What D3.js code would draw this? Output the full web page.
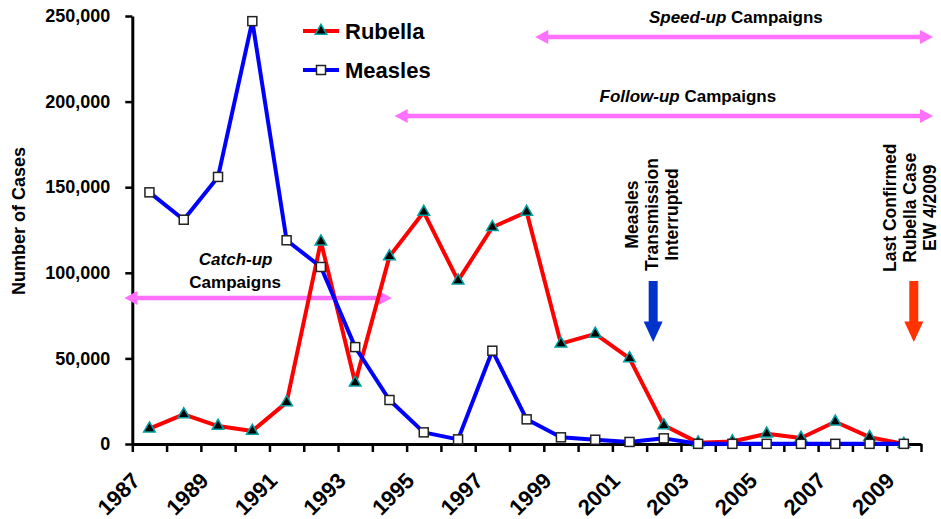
<!DOCTYPE html>
<html>
<head>
<meta charset="utf-8">
<script src="https://cdn.jsdelivr.net/npm/d3@7"></script>
<style>
  html, body { margin: 0; padding: 0; background: #fff; }
  svg { display: block; font-family: "Liberation Sans", Arial, sans-serif; }
  .yearlab { font-size: 22px; font-weight: bold; }
</style>
</head>
<body>
<svg id="chart" width="941" height="519"></svg>
<script>
// ---- data ----
const years = [1987,1988,1989,1990,1991,1992,1993,1994,1995,1996,1997,1998,1999,2000,2001,2002,2003,2004,2005,2006,2007,2008,2009];
const rubella = [9000,17300,10500,7600,24300,118200,35800,109600,135500,95400,126600,135500,58600,64300,50000,10900,800,1500,6000,3500,13000,4000,0];
const measles = [147000,131000,156000,247000,119000,103400,56600,25700,6800,2700,54500,14400,3900,2500,1200,3300,100,100,100,100,100,100,100];
const yTicks = [0,50000,100000,150000,200000,250000];
const yearLabels = [1987,1989,1991,1993,1995,1997,1999,2001,2003,2005,2007,2009];
const seriesNames = ["Rubella","Measles"];
// campaign spans (year positions, case-level of arrow)
const campaigns = [
  {italic:"Speed-up", rest:" Campaigns", from:1998.75, to:2010.35, level:237700, textAt:2004.6, textLevel:"above"},
  {italic:"Follow-up", rest:" Campaigns", from:1994.65, to:2010.35, level:191600, textAt:2003.2, textLevel:"above"},
  {italic:"Catch-up", rest:"Campaigns", from:1986.77, to:1994.57, level:85300, textAt:1990.0, textLevel:"twoLines"}
];
const markers = [
  {lines:["Measles","Transmission","Interrupted"], at:2002.19, color:"#0033CC", textMid:134000, shift:5},
  {lines:["Last Confirmed","Rubella Case","EW 4/2009"], at:2009.79, color:"#FF3300", textMid:138000, shift:2}
];
const arrowTop = 95200, arrowHeadStart = 71600, arrowTip = 59600;

// ---- scales ----
const svg = d3.select("#chart");
const x = d3.scaleBand().domain(years).range([132.3, 921]).padding(0);
const xl = d3.scaleLinear().domain([1987, 2010]).range([132.3, 921]);
const y = d3.scaleLinear().domain([0, 250000]).range([444, 16]);
const bw = x.bandwidth();
const cx = yr => x(yr) + bw / 2;

// ---- axes ----
const yAxis = svg.append("g").attr("transform", "translate(132.3,0)")
  .call(d3.axisLeft(y).tickValues(yTicks).tickSize(7).tickSizeOuter(0).tickPadding(15).tickFormat(d3.format(",")));
yAxis.select(".domain").attr("stroke", "#000").attr("stroke-width", 3);
yAxis.selectAll(".tick line").attr("stroke", "#000").attr("stroke-width", 2.5);
yAxis.selectAll(".tick text").attr("font-size", 18).attr("font-weight", "bold").attr("fill", "#000")
  .attr("font-family", "Liberation Sans, Arial, sans-serif");

const xAxis = svg.append("g").attr("transform", "translate(0,444)")
  .call(d3.axisBottom(xl).tickValues(d3.range(1987, 2011)).tickSize(8).tickSizeOuter(0).tickFormat(""));
xAxis.select(".domain").attr("stroke", "#000").attr("stroke-width", 3);
xAxis.selectAll(".tick line").attr("stroke", "#000").attr("stroke-width", 2.5);

svg.append("g").selectAll("text").data(yearLabels).join("text")
  .attr("class", "yearlab")
  .attr("transform", d => `translate(${cx(d) - 8},482) rotate(-45)`)
  .attr("text-anchor", "end")
  .attr("fill", "#000")
  .text(d => d);

svg.append("text")
  .attr("transform", `translate(25,221) rotate(-90)`)
  .attr("text-anchor", "middle")
  .attr("font-size", 18).attr("font-weight", "bold").attr("fill", "#000")
  .text("Number of Cases");

// ---- campaign arrows ----
const pink = "#FF70FF";
function hArrow(g, x1, x2, yy) {
  const hl = 13, hw = 7;
  g.append("line").attr("x1", x1 + hl - 1).attr("x2", x2 - hl + 1).attr("y1", yy).attr("y2", yy)
    .attr("stroke", pink).attr("stroke-width", 4.5);
  g.append("path").attr("d", `M${x1},${yy} L${x1 + hl},${yy - hw} L${x1 + hl},${yy + hw} Z`).attr("fill", pink);
  g.append("path").attr("d", `M${x2},${yy} L${x2 - hl},${yy - hw} L${x2 - hl},${yy + hw} Z`).attr("fill", pink);
}
const cg = svg.append("g");
campaigns.forEach(c => {
  const yy = y(c.level);
  hArrow(cg, xl(c.from), xl(c.to), yy);
  if (c.textLevel === "above") {
    const t = cg.append("text").attr("x", xl(c.textAt)).attr("y", yy - 14)
      .attr("text-anchor", "middle").attr("font-size", 17).attr("font-weight", "bold").attr("fill", "#000");
    t.append("tspan").attr("font-style", "italic").text(c.italic);
    t.append("tspan").text(c.rest);
  } else {
    cg.append("text").attr("x", xl(c.textAt) + 0.5).attr("y", yy - 33)
      .attr("text-anchor", "middle").attr("font-size", 17).attr("font-weight", "bold")
      .attr("font-style", "italic").attr("fill", "#000").text(c.italic);
    cg.append("text").attr("x", xl(c.textAt)).attr("y", yy - 10)
      .attr("text-anchor", "middle").attr("font-size", 17).attr("font-weight", "bold")
      .attr("fill", "#000").text(c.rest);
  }
});

// ---- vertical annotations ----
markers.forEach(m => {
  const mx = xl(m.at);
  const n = m.lines.length;
  m.lines.forEach((ln, i) => {
    svg.append("text")
      .attr("transform", `translate(${mx + (i - (n - 1) / 2) * 20 + m.shift},${y(m.textMid)}) rotate(-90)`)
      .attr("text-anchor", "middle").attr("font-size", 17.5).attr("font-weight", "bold").attr("fill", "#000")
      .text(ln);
  });
  const t = y(arrowTop), hs = y(arrowHeadStart), tip = y(arrowTip);
  svg.append("path")
    .attr("d", `M${mx - 4.5},${t} L${mx + 4.5},${t} L${mx + 4.5},${hs} L${mx + 9.5},${hs} L${mx},${tip} L${mx - 9.5},${hs} L${mx - 4.5},${hs} Z`)
    .attr("fill", m.color);
});

// ---- series ----
const line = d3.line().x((d, i) => cx(years[i])).y(d => y(d));
svg.append("path").datum(rubella).attr("d", line).attr("fill", "none")
  .attr("stroke", "#FF0000").attr("stroke-width", 4).attr("stroke-linejoin", "round");
const tri = d3.symbol().type(d3.symbolTriangle).size(58);
svg.append("g").selectAll("path").data(rubella).join("path")
  .attr("transform", (d, i) => `translate(${cx(years[i])},${y(d)})`)
  .attr("d", tri).attr("fill", "#000").attr("stroke", "#00A0A0").attr("stroke-width", 1.5);

svg.append("path").datum(measles).attr("d", line).attr("fill", "none")
  .attr("stroke", "#0000FF").attr("stroke-width", 4).attr("stroke-linejoin", "round");
svg.append("g").selectAll("rect").data(measles).join("rect")
  .attr("x", (d, i) => cx(years[i]) - 4.5).attr("y", d => y(d) - 4.5)
  .attr("width", 9).attr("height", 9)
  .attr("fill", "#fff").attr("stroke", "#222").attr("stroke-width", 1.5);

// ---- legend ----
const lg = svg.append("g");
const legendItems = [
  {name: seriesNames[0], color: "#FF0000", type: "tri", ly: 31},
  {name: seriesNames[1], color: "#0000FF", type: "sq", ly: 70}
];
legendItems.forEach(it => {
  lg.append("line").attr("x1", 303).attr("x2", 339).attr("y1", it.ly).attr("y2", it.ly)
    .attr("stroke", it.color).attr("stroke-width", 4);
  if (it.type === "tri") {
    lg.append("path").attr("transform", `translate(321,${it.ly})`).attr("d", tri)
      .attr("fill", "#000").attr("stroke", "#00A0A0").attr("stroke-width", 1.5);
  } else {
    lg.append("rect").attr("x", 316.5).attr("y", it.ly - 4.5).attr("width", 9).attr("height", 9)
      .attr("fill", "#fff").attr("stroke", "#222").attr("stroke-width", 1.5);
  }
  lg.append("text").attr("x", 345).attr("y", it.ly + 8).attr("font-size", 22).attr("font-weight", "bold")
    .attr("fill", "#000").text(it.name);
});
</script>
</body>
</html>
